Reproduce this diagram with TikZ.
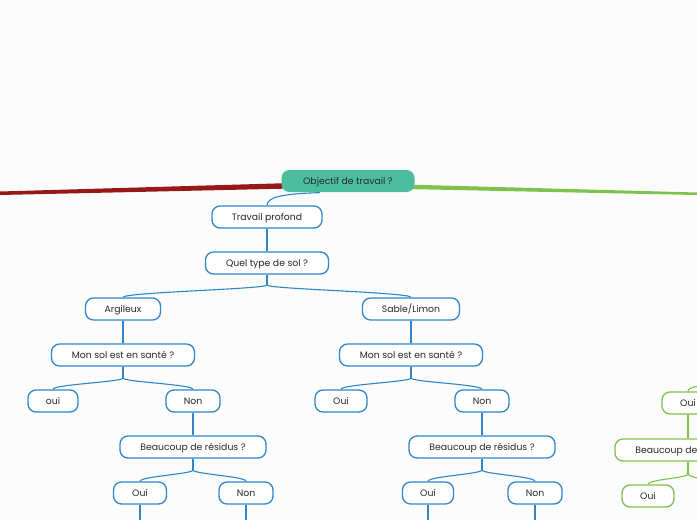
\documentclass[tikz,border=0pt]{standalone}
\usepackage{fontspec}
\setmainfont{Poppins}
\definecolor{mmblue}{RGB}{46,134,200}
\definecolor{mmteal}{RGB}{77,189,160}
\definecolor{mmred}{RGB}{152,24,24}
\definecolor{mmgreen}{RGB}{126,194,76}
\definecolor{mmtext}{RGB}{40,40,40}
\begin{document}
\begin{tikzpicture}[x=1pt,y=-1pt,
    box/.style={draw=mmblue, line width=1.3pt, rounded corners=8pt, fill=white,
      minimum height=22pt, inner sep=0pt, text height=6.8pt, text depth=0.5pt,
      text=mmtext, font=\fontsize{9.3}{11}\selectfont},
    gbox/.style={box, draw=mmgreen},
    root/.style={box, draw=none, fill=mmteal},
    link/.style={draw=mmblue, line width=1.1pt},
    glink/.style={draw=mmgreen, line width=1.1pt}]
  \clip (0,0) rectangle (697,520);
  \fill[white!99!black] (0,0) rectangle (697,520);

  % main branches
  \fill[mmred] (292,183) -- (292,188.5) -- (0,195) -- (0,191.5) -- cycle;
  \fill[mmgreen] (405,184.5) -- (405,189) -- (697,195) -- (697,192.5) -- cycle;

  \node[root, minimum width=133pt] (goal) at (348,181) {Objectif de travail ?};

  % blue tree
  \node[box, minimum width=110pt] (deep) at (267,217) {Travail profond};
  \node[box, minimum width=123pt] (soil) at (267,263) {Quel type de sol ?};
  \node[box, minimum width=75pt] (clay) at (123,309) {Argileux};
  \node[box, minimum width=97pt] (sand) at (411,309) {Sable/Limon};
  \node[box, minimum width=143pt] (healthA) at (123,355) {Mon sol est en santé ?};
  \node[box, minimum width=143pt] (healthB) at (411,355) {Mon sol est en santé ?};
  \node[box, minimum width=50pt] (yesA) at (53,401) {oui};
  \node[box, minimum width=54pt] (noA) at (193,401) {Non};
  \node[box, minimum width=52pt] (yesB) at (341,401) {Oui};
  \node[box, minimum width=54pt] (noB) at (482,401) {Non};
  \node[box, minimum width=146pt] (resA) at (193,447) {Beaucoup de résidus ?};
  \node[box, minimum width=146pt] (resB) at (482,447) {Beaucoup de résidus ?};
  \node[box, minimum width=53pt] (yesAA) at (140,493) {Oui};
  \node[box, minimum width=54pt] (noAA) at (246,493) {Non};
  \node[box, minimum width=51pt] (yesBB) at (428,493) {Oui};
  \node[box, minimum width=54pt] (noBB) at (535,493) {Non};

  \coordinate (j1) at (267,285);
  \coordinate (j2) at (123,378);
  \coordinate (j3) at (411,378);
  \coordinate (j4) at (193,470);
  \coordinate (j5) at (482,470);
  \coordinate (e1) at (140,525);
  \coordinate (e2) at (246,525);
  \coordinate (e3) at (428,525);
  \coordinate (e4) at (535,525);

  \draw[link] ([xshift=-28pt]goal.south) .. controls +(-38,1) and +(0,-8) .. (deep.north);
  \draw[link] (deep) -- (soil);
  \draw[link] (soil.south) -- (j1);
  \draw[link] (j1) .. controls +(0,4) and +(0,-5) .. (clay.north);
  \draw[link] (j1) .. controls +(0,4) and +(0,-5) .. (sand.north);
  \draw[link] (clay) -- (healthA);
  \draw[link] (sand) -- (healthB);
  \draw[link] (healthA.south) -- (j2);
  \draw[link] (j2) .. controls +(0,4) and +(0,-5) .. (yesA.north);
  \draw[link] (j2) .. controls +(0,4) and +(0,-5) .. (noA.north);
  \draw[link] (healthB.south) -- (j3);
  \draw[link] (j3) .. controls +(0,4) and +(0,-5) .. (yesB.north);
  \draw[link] (j3) .. controls +(0,4) and +(0,-5) .. (noB.north);
  \draw[link] (noA) -- (resA);
  \draw[link] (noB) -- (resB);
  \draw[link] (resA.south) -- (j4);
  \draw[link] (j4) .. controls +(0,4) and +(0,-5) .. (yesAA.north);
  \draw[link] (j4) .. controls +(0,4) and +(0,-5) .. (noAA.north);
  \draw[link] (resB.south) -- (j5);
  \draw[link] (j5) .. controls +(0,4) and +(0,-5) .. (yesBB.north);
  \draw[link] (j5) .. controls +(0,4) and +(0,-5) .. (noBB.north);
  \draw[link] (yesAA) -- (e1);
  \draw[link] (noAA) -- (e2);
  \draw[link] (yesBB) -- (e3);
  \draw[link] (noBB) -- (e4);

  % green tree (cut at the edge)
  \node[gbox, minimum width=52pt] (gyes) at (688,403) {Oui};
  \node[gbox, minimum width=146pt] (gres) at (688,450) {Beaucoup de résidus ?};
  \node[gbox, minimum width=52pt] (gyesA) at (648,496) {Oui};
  \coordinate (g0) at (720,384);
  \coordinate (g1) at (688,474);
  \coordinate (g2) at (740,484);
  \draw[glink] (g0) .. controls +(-20,2) and +(0,-5) .. (gyes.north);
  \draw[glink] (gyes) -- (gres);
  \draw[glink] (gres.south) -- (g1);
  \draw[glink] (g1) .. controls +(0,4) and +(0,-5) .. (gyesA.north);
  \draw[glink] (g1) .. controls +(0,4) and +(-10,0) .. (g2);
\end{tikzpicture}
\end{document}
